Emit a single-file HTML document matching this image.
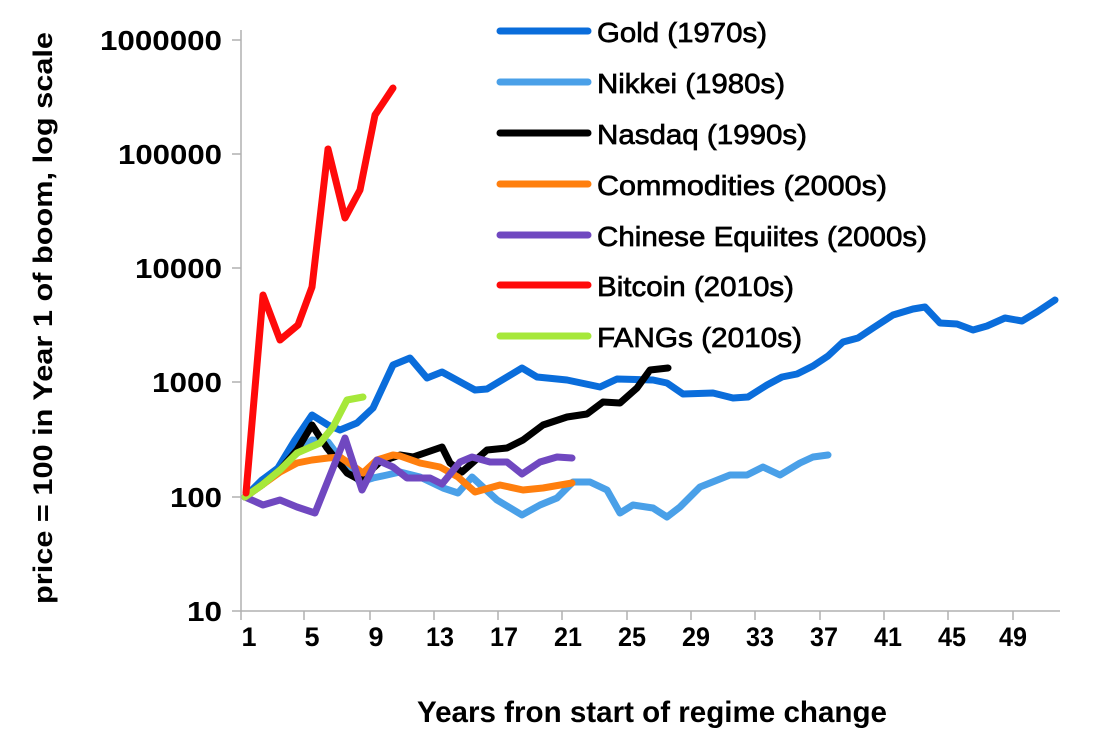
<!DOCTYPE html>
<html><head><meta charset="utf-8"><style>
html,body{margin:0;padding:0;background:#fff;}
svg{display:block;font-family:"Liberation Sans",Arial,sans-serif;}
</style></head><body>
<svg width="1112" height="733" viewBox="0 0 1112 733">
<g stroke="#b0b0b0" stroke-width="1.5">
<line x1="241" y1="30" x2="241" y2="611"/>
<line x1="232" y1="611" x2="1060" y2="611"/>
<line x1="232" y1="40" x2="241" y2="40"/>
<line x1="232" y1="154" x2="241" y2="154"/>
<line x1="232" y1="268" x2="241" y2="268"/>
<line x1="232" y1="382" x2="241" y2="382"/>
<line x1="232" y1="497" x2="241" y2="497"/>
<line x1="241" y1="611" x2="241" y2="620"/><line x1="304" y1="611" x2="304" y2="620"/><line x1="370" y1="611" x2="370" y2="620"/><line x1="434" y1="611" x2="434" y2="620"/><line x1="498" y1="611" x2="498" y2="620"/><line x1="562" y1="611" x2="562" y2="620"/><line x1="627" y1="611" x2="627" y2="620"/><line x1="691" y1="611" x2="691" y2="620"/><line x1="755" y1="611" x2="755" y2="620"/><line x1="820" y1="611" x2="820" y2="620"/><line x1="884" y1="611" x2="884" y2="620"/><line x1="948" y1="611" x2="948" y2="620"/><line x1="1013" y1="611" x2="1013" y2="620"/>
</g>
<g font-size="28" font-weight="bold" text-anchor="end" fill="#000">
<text x="222" y="50" textLength="122" lengthAdjust="spacingAndGlyphs">1000000</text>
<text x="222" y="164" textLength="104" lengthAdjust="spacingAndGlyphs">100000</text>
<text x="222" y="278" textLength="87" lengthAdjust="spacingAndGlyphs">10000</text>
<text x="222" y="392" textLength="70" lengthAdjust="spacingAndGlyphs">1000</text>
<text x="222" y="507" textLength="52" lengthAdjust="spacingAndGlyphs">100</text>
<text x="222" y="621" textLength="35" lengthAdjust="spacingAndGlyphs">10</text>
</g>
<g font-size="27" font-weight="bold" text-anchor="middle" fill="#000">
<text x="249" y="646">1</text><text x="312" y="646">5</text><text x="376" y="646">9</text><text x="440" y="646" textLength="28" lengthAdjust="spacingAndGlyphs">13</text><text x="504" y="646" textLength="28" lengthAdjust="spacingAndGlyphs">17</text><text x="568" y="646" textLength="28" lengthAdjust="spacingAndGlyphs">21</text><text x="632" y="646" textLength="28" lengthAdjust="spacingAndGlyphs">25</text><text x="696" y="646" textLength="28" lengthAdjust="spacingAndGlyphs">29</text><text x="760" y="646" textLength="28" lengthAdjust="spacingAndGlyphs">33</text><text x="824" y="646" textLength="28" lengthAdjust="spacingAndGlyphs">37</text><text x="888" y="646" textLength="28" lengthAdjust="spacingAndGlyphs">41</text><text x="952" y="646" textLength="28" lengthAdjust="spacingAndGlyphs">45</text><text x="1013" y="646" textLength="28" lengthAdjust="spacingAndGlyphs">49</text>
</g>
<text x="652" y="722" font-size="30" font-weight="bold" text-anchor="middle" textLength="470" lengthAdjust="spacingAndGlyphs">Years fron start of regime change</text>
<text transform="translate(52,318) rotate(-90)" font-size="27" font-weight="bold" text-anchor="middle" textLength="572" lengthAdjust="spacingAndGlyphs">price = 100 in Year 1 of boom, log scale</text>

<g fill="none" stroke-width="7" stroke-linejoin="round" stroke-linecap="round">
<polyline stroke="#4aa0e8" points="245,497 262,480 278,470 295,455 312,440 328,442 345,465 360,482 373,478 387,475 400,472 420,477 443,488 458,493 472,477 497,500 522,515 540,505 557,498 573,482 590,482 607,490 620,513 633,505 653,508 667,517 680,507 700,487 730,475 747,475 763,467 780,475 800,463 813,457 828,455"/>
<polyline stroke="#0a6ddb" points="245,497 262,480 278,468 295,440 312,415 328,425 340,430 357,423 373,408 393,365 410,358 427,378 442,372 475,390 487,389 522,368 537,377 567,380 600,387 617,379 653,380 667,383 683,394 713,393 733,398 748,397 767,385 782,377 797,374 813,366 828,356 843,342 858,338 873,328 893,315 913,309 925,307 940,323 957,324 973,330 987,326 1005,318 1022,321 1037,312 1055,300"/>
<polyline stroke="#000" points="245,497 262,485 280,470 297,450 312,425 327,448 347,473 360,480 380,462 400,455 413,457 442,447 450,463 462,472 487,450 507,448 523,440 543,425 567,417 587,414 603,402 620,403 637,388 650,370 668,368"/>
<polyline stroke="#ff7f0e" points="245,497 262,485 280,472 297,463 312,460 328,458 340,457 363,473 377,460 393,455 400,456 420,463 440,467 458,477 475,492 500,485 523,490 543,488 572,483"/>
<polyline stroke="#7048c0" points="245,497 263,505 280,500 297,507 315,513 345,438 362,490 377,460 393,467 407,478 430,478 442,484 460,462 472,457 490,462 507,462 522,474 540,462 557,457 572,458"/>
<polyline stroke="#a6e83a" points="245,497 262,485 280,470 297,453 320,443 333,427 347,400 363,397"/>
<polyline stroke="#ff0a0a" points="246,493 263,295 280,340 298,325 312,287 328,149 345,218 360,190 375,115 393,88"/>
</g>

<g stroke-width="7" stroke-linecap="round">
<line x1="500" y1="31" x2="588" y2="31" stroke="#0a6ddb"/>
<line x1="500" y1="82" x2="588" y2="82" stroke="#4aa0e8"/>
<line x1="500" y1="133" x2="588" y2="133" stroke="#000"/>
<line x1="500" y1="184" x2="588" y2="184" stroke="#ff7f0e"/>
<line x1="500" y1="235" x2="588" y2="235" stroke="#7048c0"/>
<line x1="500" y1="285" x2="588" y2="285" stroke="#ff0a0a"/>
<line x1="500" y1="336" x2="588" y2="336" stroke="#a6e83a"/>
</g>
<g font-size="28" fill="#000" stroke="#000" stroke-width="0.7">
<text x="597" y="42" textLength="170" lengthAdjust="spacingAndGlyphs">Gold (1970s)</text>
<text x="597" y="93" textLength="188" lengthAdjust="spacingAndGlyphs">Nikkei (1980s)</text>
<text x="597" y="144" textLength="210" lengthAdjust="spacingAndGlyphs">Nasdaq (1990s)</text>
<text x="597" y="195" textLength="290" lengthAdjust="spacingAndGlyphs">Commodities (2000s)</text>
<text x="597" y="246" textLength="330" lengthAdjust="spacingAndGlyphs">Chinese Equiites (2000s)</text>
<text x="597" y="296" textLength="197" lengthAdjust="spacingAndGlyphs">Bitcoin (2010s)</text>
<text x="597" y="347" textLength="205" lengthAdjust="spacingAndGlyphs">FANGs (2010s)</text>
</g>
</svg>
</body></html>
